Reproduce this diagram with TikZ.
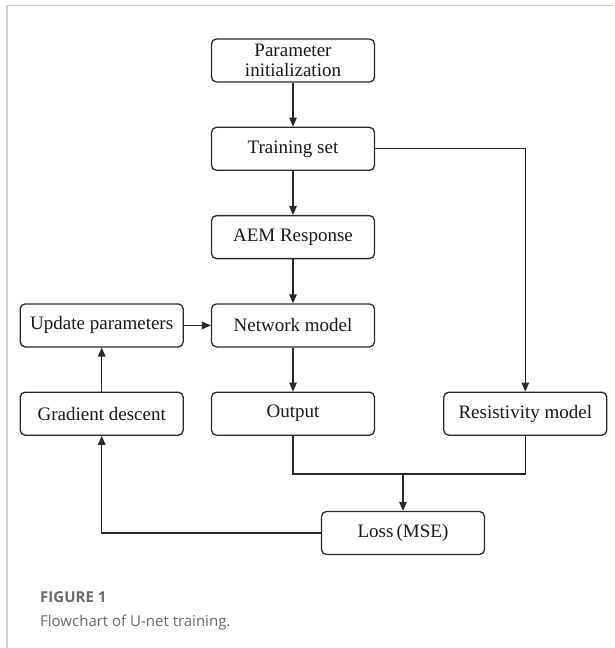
\documentclass[tikz,border=0pt]{standalone}
\usepackage{fontspec}
\setmainfont{Liberation Serif}
\newfontfamily\capfont{Open Sans}
\usepackage{xcolor}
\usetikzlibrary{arrows.meta,positioning,calc}
\definecolor{linegray}{HTML}{2A2A2A}
\definecolor{framegray}{HTML}{CCCCCC}
\definecolor{capgray}{HTML}{6A6A6A}
\tikzset{%
  box/.style={draw=linegray,rounded corners=5pt,align=center,minimum width=163pt,minimum height=43pt,inner sep=3pt,line width=1.3pt},
  arrow/.style={-{Triangle[length=9pt,width=7.5pt]}, line width=1.3pt, draw=linegray},
  link/.style={line width=1.3pt, draw=linegray}%
}

\begin{document}
\begin{tikzpicture}[
    font=\fontsize{19}{20}\selectfont,
    text=black!90,
    caption/.style={
        anchor=base west,
        inner sep=0pt,
        text=capgray
    }
]
\useasboundingbox (0pt,0pt) rectangle (614pt,-648pt);

% Page frame
\draw[framegray, line width=1.5pt] (7pt,-648pt) -- (7pt,-5.5pt) -- (614pt,-5.5pt);

% Main column
\node[box] (param) at (293pt,-60.5pt)
{Parameter\\initialization};

\node[box, below=44pt of param] (train)
{Training set};

\node[box, below=44pt of train] (aem)
{AEM Response};

\node[box, below=44pt of aem] (net)
{Network model};

\node[box, below=44pt of net] (out)
{Output};

% Side columns
\node[box, left=27pt of net] (update)
{Update parameters};

\node[box, below=44pt of update] (grad)
{Gradient descent};

\node[box, right=68pt of out] (resist)
{Resistivity model};

\node[box, below=75pt of out, xshift=110pt] (loss)
{Loss\,(MSE)};

% Arrows
\draw[arrow] (param) -- (train);
\draw[arrow] (train) -- (aem);
\draw[arrow] (aem) -- (net);
\draw[arrow] (net) -- (out);
\draw[arrow] (train.east) -| (resist.north);
\draw[arrow] (update) -- (net);
\draw[arrow] (grad) -- (update);

% Join of output and target
\coordinate (join) at ($(out.south)+(0,-38pt)$);
\draw[link] (out.south) -- (join) -| (resist.south);
\draw[arrow, line width=1.7pt] (join -| loss.north) -- (loss.north);
\draw[arrow] (loss.west) -| (grad.south);

% Caption
\node[caption, font=\capfont\bfseries\fontsize{15}{18}\selectfont] (figlabel) at (40pt,-602pt)
{FIGURE 1};
\node[caption, font=\capfont\fontsize{15}{18}\selectfont] (figtext) at (40pt,-626pt)
{Flowchart of U-net training.};

\end{tikzpicture}
\end{document}
